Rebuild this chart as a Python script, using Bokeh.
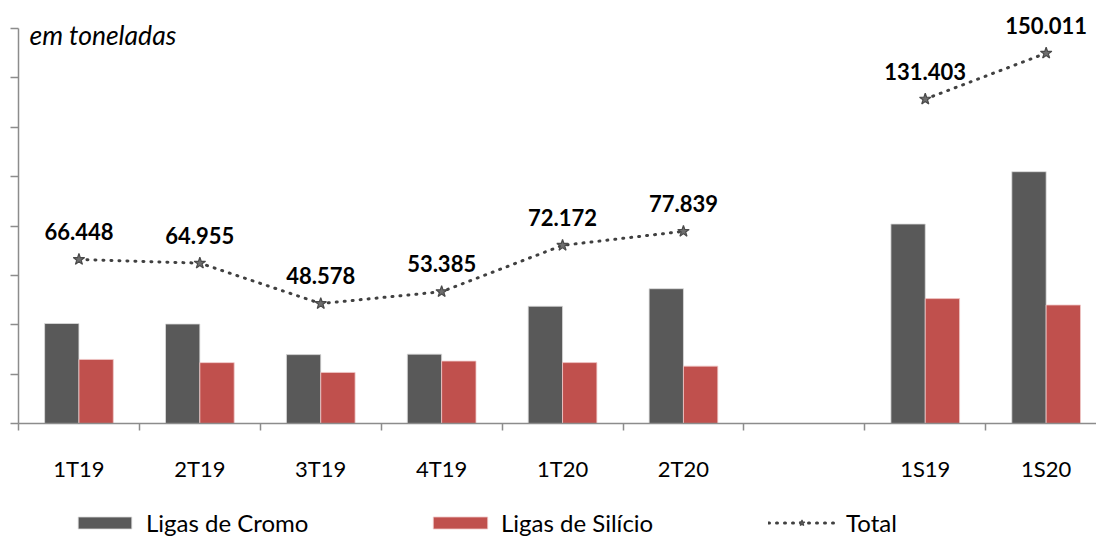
import math
from bokeh.plotting import figure
from bokeh.models import (Range1d, FixedTicker, Label, LabelSet, ColumnDataSource,
                          Legend, LegendItem)
from bokeh.embed import file_html
from bokeh.resources import INLINE
from bokeh.core.properties import value

NaN = float("nan")

# ---- data (toneladas) ----
categories = ["1T19", "2T19", "3T19", "4T19", "1T20", "2T20", "", "1S19", "1S20"]
cromo = [40500, 40300, 27900, 28100, 47500, 54600, NaN, 80800, 102000]
silicio = [25950, 24650, 20680, 25280, 24670, 23240, NaN, 50600, 48000]
total = [66448, 64955, 48578, 53385, 72172, 77839, NaN, 131403, 150011]
total_labels = ["66.448", "64.955", "48.578", "53.385", "72.172", "77.839", "", "131.403", "150.011"]
y_ticks = [0, 20000, 40000, 60000, 80000, 100000, 120000, 140000, 160000]
y_max = 160000

FONT = "Lato"
W, H = 1096, 539
# frame geometry (pixels) taken from the reference layout
X0_PX, CAT_PX = 18, 120.9          # x of the y axis, width of one category
Y0_PX, YTOP_PX = 423, 28           # pixel rows of 0 and of the axis maximum
ky = (Y0_PX - YTOP_PX) / y_max     # px per tonne

centers = [i + 0.5 for i in range(len(categories))]
bar_idx = [i for i, c in enumerate(categories) if c]

bars = ColumnDataSource(dict(
    xc=[centers[i] - 0.142 for i in bar_idx],
    xs=[centers[i] + 0.142 for i in bar_idx],
    cromo=[cromo[i] for i in bar_idx],
    silicio=[silicio[i] for i in bar_idx],
))
lab = ColumnDataSource(dict(
    x=[centers[i] for i in bar_idx],
    y=[total[i] for i in bar_idx],
    t=[total_labels[i] for i in bar_idx],
))

p = figure(width=W, height=H, output_backend="svg", toolbar_location=None,
           x_range=Range1d(-X0_PX / CAT_PX, (W - X0_PX) / CAT_PX),
           y_range=Range1d(-(H - Y0_PX) / ky, y_max + YTOP_PX / ky),
           min_border=0)
p.outline_line_color = None
p.xgrid.visible = False
p.ygrid.visible = False

r_cromo = p.vbar(x="xc", top="cromo", width=0.284, source=bars,
                 fill_color="#595959", line_color="#dcdcdc", line_width=0.8)
r_sil = p.vbar(x="xs", top="silicio", width=0.284, source=bars,
               fill_color="#C0504D", line_color="#f0c8c8", line_width=0.8)

r_line = p.line(centers, total, line_color="#404040", line_width=3,
                line_dash="1 7", line_cap="round")
r_mark = p.scatter(centers, total, marker="star", size=12,
                   fill_color="#6e6e6e", line_color="#4a4a4a", line_width=1.2)

p.add_layout(LabelSet(x="x", y="y", text="t", source=lab, text_align="center",
                      text_baseline="middle", y_offset=28, text_font=value(FONT),
                      text_font_style="bold", text_font_size="22px", text_color="#000000"))

# axes
ax = p.xaxis[0]
ax.fixed_location = 0
ax.bounds = (0, len(categories))
ax.ticker = FixedTicker(ticks=[centers[i] for i in bar_idx], minor_ticks=list(range(len(categories) + 1)))
ax.major_label_overrides = {centers[i]: categories[i] for i in bar_idx}
ax.major_tick_out = 0
ax.major_tick_in = 0
ax.minor_tick_out = 7
ax.minor_tick_in = 0
ax.minor_tick_line_color = "#8c8c8c"
ax.minor_tick_line_width = 1.5
ax.axis_line_color = "#8c8c8c"
ax.axis_line_width = 1.5
ax.major_label_standoff = 24
ax.major_label_text_font = FONT
ax.major_label_text_font_size = "22px"
ax.major_label_text_color = "#000000"

ay = p.yaxis[0]
ay.fixed_location = 0
ay.bounds = (0, y_max)
ay.ticker = FixedTicker(ticks=y_ticks)
ay.major_label_overrides = {t: "" for t in y_ticks}
ay.major_label_standoff = 0
ay.major_tick_out = 8
ay.major_tick_in = 0
ay.minor_tick_out = 0
ay.minor_tick_in = 0
ay.major_tick_line_color = "#8c8c8c"
ay.major_tick_line_width = 1.5
ay.axis_line_color = "#8c8c8c"
ay.axis_line_width = 1.5

p.add_layout(Label(x=29, y=H - 18, x_units="screen", y_units="screen", text="em toneladas",
                   text_baseline="top", text_font=FONT, text_font_style="italic",
                   text_font_size="26.5px", text_color="#000000"))

def add_legend(label, renderers, x, gw, standoff):
    lg = Legend(items=[LegendItem(label=label, renderers=renderers)], location=(x, 2),
                orientation="horizontal", glyph_width=gw, glyph_height=15,
                label_height=15, label_standoff=standoff, padding=0, margin=0,
                spacing=0, border_line_color=None, background_fill_alpha=0,
                label_text_font=FONT, label_text_font_size="24px", label_text_color="#000000")
    p.add_layout(lg, "center")

add_legend("Ligas de Cromo", [r_cromo], 71, 67, 8)
add_legend("Ligas de Silício", [r_sil], 426, 68, 7)
add_legend("Total", [r_line, r_mark], 768, 67, 11)

open("out.html", "w").write(file_html(p, INLINE))
